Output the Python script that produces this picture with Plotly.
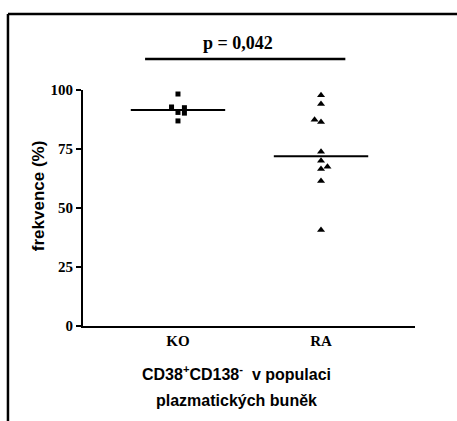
import numpy as np
import plotly.graph_objects as go

# Frequency of CD38+CD138- cells within the plasma-cell population (%)
groups = ["KO", "RA"]
ko_values = [98.3, 92.8, 90.5, 92.5, 90.2, 86.9]
ko_slots = [0, -1, 0, 1, 1, 0]          # column-scatter slot of each point
ra_values = [97.8, 94.1, 87.4, 86.4, 73.8, 70.0, 67.5, 66.5, 61.4, 40.7]
ra_slots = [0, 0, -1, 0, 0, 0, 1, 0, 0, 0]
y_ticks = [0, 25, 50, 75, 100]
p_label = "p = 0,042"

SLOT_W = 0.045     # horizontal spread between neighbouring points
HALF_MED = 0.33    # half-width of the median bar

serif = "Liberation Serif"
sans = "Liberation Sans"

fig = go.Figure()

series = [
    (1, ko_values, ko_slots, "square", 5),
    (2, ra_values, ra_slots, "triangle-up", 7),
]
for xpos, vals, slots, symbol, size in series:
    xs = [xpos + s * SLOT_W for s in slots]
    fig.add_trace(go.Scatter(
        x=xs, y=vals, mode="markers",
        marker=dict(symbol=symbol, size=size, color="black", line=dict(width=0)),
        showlegend=False, hoverinfo="y",
    ))
    med = float(np.median(vals))
    fig.add_trace(go.Scatter(
        x=[xpos - HALF_MED, xpos + HALF_MED], y=[med, med], mode="lines",
        line=dict(color="black", width=2), showlegend=False, hoverinfo="skip",
    ))

# significance bar and p-value
fig.add_shape(type="line", xref="x", yref="paper", x0=0.77, x1=2.17,
              y0=1.131, y1=1.131, line=dict(color="black", width=2.5))
fig.add_annotation(xref="x", yref="paper", x=1.42, y=1.199, yanchor="middle",
                   text=p_label, showarrow=False,
                   font=dict(family=serif, size=18, color="black", weight="bold"))

# outer frame (left and top edges)
fig.add_shape(type="line", xref="paper", yref="paper", x0=-0.226, x1=-0.226,
              y0=-0.41, y1=1.322, line=dict(color="black", width=2.5))
fig.add_shape(type="line", xref="paper", yref="paper", x0=-0.226, x1=1.2,
              y0=1.322, y1=1.322, line=dict(color="black", width=2.5))

# axis titles
fig.add_annotation(xref="paper", yref="paper", x=-0.1355, y=0.55, xanchor="center",
                   yanchor="middle", text="frekvence (%)", textangle=-90,
                   showarrow=False,
                   font=dict(family=sans, size=17, color="black", weight="bold"))
x_title_font = dict(family=sans, size=16, color="black", weight="bold")
fig.add_annotation(xref="paper", yref="paper", x=0.463, y=-0.20, yanchor="middle",
                   text="CD38<sup>+</sup>CD138<sup>-</sup>  v populaci",
                   showarrow=False, font=x_title_font)
fig.add_annotation(xref="paper", yref="paper", x=0.463, y=-0.315, yanchor="middle",
                   text="plazmatických buněk", showarrow=False, font=x_title_font)

tick_font = dict(family=serif, size=15, color="black", weight="bold")
fig.update_layout(
    width=457, height=421,
    margin=dict(l=83, r=42, t=90, b=95),
    paper_bgcolor="white", plot_bgcolor="white",
    xaxis=dict(range=[0.336, 2.657], tickvals=[1, 2], ticktext=groups,
               showline=True, linecolor="black", linewidth=2, ticks="", showgrid=False,
               zeroline=False, tickfont=tick_font),
    yaxis=dict(range=[0, 100], tickvals=y_ticks, ticktext=[str(t) for t in y_ticks],
               showline=True, linecolor="black", linewidth=2, ticks="outside",
               ticklen=5, tickwidth=1.5, tickcolor="black", showgrid=False, zeroline=False,
               tickfont=tick_font),
)

fig.write_html("out.html")
